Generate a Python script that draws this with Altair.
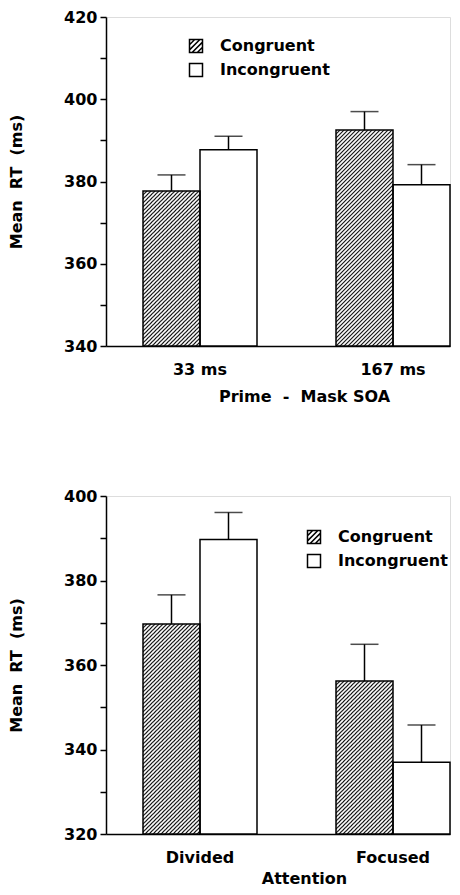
import base64
import altair as alt
import pandas as pd

conditions = ["Congruent", "Incongruent"]

# Top panel: Prime - Mask SOA
top_groups = ["33 ms", "167 ms"]
top_means = [377.7, 387.7, 392.5, 379.2]   # 33C, 33I, 167C, 167I
top_upper = [381.6, 391.0, 397.0, 384.1]
top_ticks = [340, 350, 360, 370, 380, 390, 400, 410, 420]

# Bottom panel: Attention
bottom_groups = ["Divided", "Focused"]
bottom_means = [369.7, 389.7, 356.2, 337.0]  # DivC, DivI, FocC, FocI
bottom_upper = [376.6, 396.1, 364.9, 345.8]
bottom_ticks = [320, 330, 340, 350, 360, 370, 380, 390, 400]

FONT = "DejaVu Sans"
PLOT_W = 344
STEP = 193.0
BAR_W = 57.0
P_INNER = 1 - 2 * BAR_W / STEP
P_OUTER = (PLOT_W / STEP - (2 - P_INNER)) / 2
ALIGN = min(1.0, 37.0 / (PLOT_W - STEP * (2 - P_INNER)))

HATCH_PATH = ("M-1,-1H1V1H-1Z M-1,-0.2L-0.2,-1 M-1,0.6L0.6,-1 "
              "M-0.6,1L1,-0.6 M0.2,1L1,0.2")
SQUARE_PATH = "M-1,-1H1V1H-1Z"


def hatch_url(value, dmin, ppu, width=BAR_W):
    h = (value - dmin) * ppu
    svg = (
        f'<svg xmlns="http://www.w3.org/2000/svg" width="{width:.2f}" height="{h:.2f}" '
        f'viewBox="0 0 {width:.2f} {h:.2f}" preserveAspectRatio="none">'
        '<defs><pattern id="h" width="4" height="4" patternUnits="userSpaceOnUse">'
        '<path d="M-1,1L1,-1M0,4L4,0M3,5L5,3" stroke="black" stroke-width="1.05"/>'
        '</pattern></defs>'
        '<rect width="100%" height="100%" fill="white"/>'
        '<rect width="100%" height="100%" fill="url(#h)"/></svg>'
    )
    return "data:image/svg+xml;base64," + base64.b64encode(svg.encode()).decode()


def panel(groups, means, uppers, ticks, height, xtitle, legend_x, legend_y,
          label_pad, title_pad):
    dmin, dmax = ticks[0], ticks[-1]
    ppu = height / (dmax - dmin)
    df = pd.DataFrame({
        "group": [g for g in groups for _ in conditions],
        "cond": conditions * len(groups),
        "mean": means,
        "upper": uppers,
    })
    x = alt.X(
        "group:N",
        scale=alt.Scale(domain=groups, paddingInner=P_INNER, paddingOuter=P_OUTER, align=ALIGN),
        axis=alt.Axis(
            labelAngle=0, ticks=False, tickSize=0, domainColor="black", domainWidth=1.5,
            labelFont=FONT, labelFontSize=16, labelFontWeight="bold", labelColor="black",
            labelPadding=label_pad, titleFont=FONT, titleFontSize=16, titleFontWeight="bold",
            titleColor="black", titlePadding=title_pad, titleX=198, titleAlign="center",
        ),
        title=xtitle,
    )
    xo = alt.XOffset("cond:N", scale=alt.Scale(domain=conditions, paddingInner=0, paddingOuter=0))
    yscale = alt.Scale(domain=[dmin, dmax], zero=False, nice=False)
    yaxis = alt.Axis(
        values=ticks, labelExpr="datum.value % 20 === 0 ? datum.label : ''",
        grid=False, tickSize=6, tickWidth=1.5, tickColor="black",
        domainColor="black", domainWidth=1.5,
        labelFont=FONT, labelFontSize=16, labelFontWeight="bold", labelColor="black",
        labelPadding=3, titleFont=FONT, titleFontSize=16, titleFontWeight="bold",
        titleColor="black", titlePadding=39,
    )
    ytitle = "Mean\u00a0 RT\u00a0 (ms)"
    y = alt.Y("mean:Q", scale=yscale, axis=yaxis, title=ytitle)
    y2 = alt.datum(dmin)
    base = alt.Chart(df)

    layers = [
        base.mark_bar(fill="white", strokeWidth=0).encode(x=x, xOffset=xo, y=y, y2=y2)
    ]
    for g, m in zip(groups, means[0::2]):
        layers.append(
            base.transform_filter(f"datum.cond == 'Congruent' && datum.group == '{g}'")
            .mark_image(aspect=False)
            .encode(x=x, xOffset=xo, y=y, y2=y2, url=alt.value(hatch_url(m, dmin, ppu)))
        )
    layers.append(
        base.mark_bar(filled=False, color="black", strokeWidth=1.5)
        .encode(x=x, xOffset=xo, y=y, y2=y2)
    )
    layers.append(
        base.mark_rule(color="black", strokeWidth=1.5)
        .encode(x=x, xOffset=xo, y=y, y2="upper:Q")
    )
    layers.append(
        base.mark_tick(orient="horizontal", size=28, thickness=1.5, color="black")
        .encode(x=x, xOffset=xo, y=alt.Y("upper:Q", scale=yscale, axis=yaxis, title=ytitle))
    )
    layers.append(
        base.mark_point(filled=False, opacity=0, color="black")
        .encode(
            x=x, xOffset=xo, y=y,
            shape=alt.Shape(
                "cond:N",
                scale=alt.Scale(domain=conditions, range=[HATCH_PATH, SQUARE_PATH]),
                legend=alt.Legend(
                    orient="none", legendX=legend_x, legendY=legend_y, title=None,
                    labelFont=FONT, labelFontSize=16, labelFontWeight="bold",
                    labelColor="black", symbolSize=169, symbolStrokeWidth=1.5,
                    symbolStrokeColor="black", symbolFillColor="white",
                    symbolOpacity=1, labelOffset=16, rowPadding=4, padding=0,
                ),
            ),
        )
    )
    return alt.layer(*layers).properties(width=PLOT_W, height=height)


top = panel(top_groups, top_means, top_upper, top_ticks, 329,
            "Prime\u00a0 -\u00a0 Mask SOA", 82, 21, 15, 11)
bottom = panel(bottom_groups, bottom_means, bottom_upper, bottom_ticks, 338,
               "Attention", 200, 33, 15, 5)

chart = (
    alt.vconcat(top, bottom, spacing=82)
    .resolve_scale(shape="independent", x="independent", y="independent")
    .resolve_legend(shape="independent")
    .properties(padding={"left": 0, "top": 0, "right": 0, "bottom": 0})
    .configure_view(stroke=None)
    .configure(background="white")
)

chart.save("out.html", embed_options={"renderer": "svg", "actions": False})
